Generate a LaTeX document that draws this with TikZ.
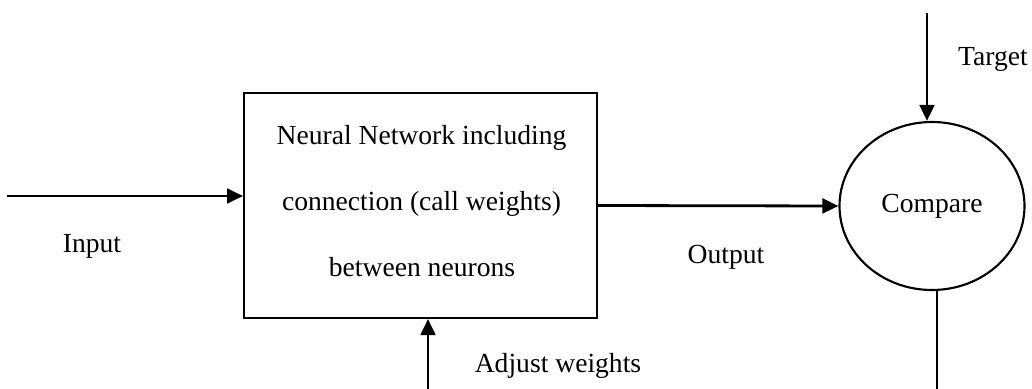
\documentclass[tikz,border=0pt]{standalone}
\usepackage{fontspec}
\setmainfont{Liberation Serif}
\usetikzlibrary{arrows.meta,shapes.geometric}
\begin{document}
\begin{tikzpicture}[x=0.75pt,y=-0.75pt,
  lbl/.style={font=\fontsize{20.7}{25}\selectfont, inner sep=0pt},
  arr/.style={line width=2.1pt, -{Triangle[length=12pt,width=11pt]}},
  ln/.style={line width=1.6pt}]
\useasboundingbox[fill=white] (0,0) rectangle (1032,389);
% main box
\node[draw, line width=1.5pt, minimum width=264.75pt, minimum height=168.75pt, inner sep=0pt] (box) at (420.5,205.5) {};
\node[lbl, anchor=base] (nn1) at (421.5,144) {Neural Network including};
\node[lbl, anchor=base] (nn2) at (421.5,210) {connection (call weights)};
\node[lbl, anchor=base] (nn3) at (422,276) {between neurons};
% compare ellipse
\node[ellipse, draw, line width=1.6pt, minimum width=138.75pt, minimum height=126pt, inner sep=0pt, font=\fontsize{20.7}{25}\selectfont] (cmp) at (932,206) {Compare};
% labels
\node[lbl, anchor=base] (inlbl) at (92,252) {Input};
\node[lbl, anchor=base] (outlbl) at (726,263) {Output};
\node[lbl, anchor=base] (adjlbl) at (558,372) {Adjust weights};
\node[lbl, anchor=base] (tgtlbl) at (993,65) {Target};
% free ends
\coordinate (inS) at (7,196);
\coordinate (tS) at (927,13);
\coordinate (aS) at (428,389);
\coordinate (bE) at (937,389);
% connectors
\draw[arr] (inS) -- (inS -| box.west);
\draw[arr] (box.east) -- (cmp.west);
\draw[arr] (tS) -- (tS |- cmp.north);
\draw[arr] (aS) -- (aS |- box.south);
\draw[ln] (bE |- cmp.south) -- (bE);
\end{tikzpicture}
\end{document}
